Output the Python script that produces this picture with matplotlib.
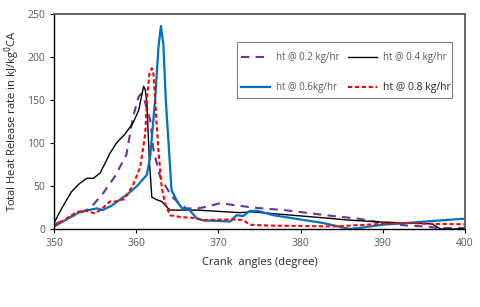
import matplotlib
matplotlib.use("Agg")
from matplotlib import pyplot as plt
from matplotlib.patches import Rectangle

plt.rcParams['font.family'] = ['Open Sans', 'DejaVu Sans']

# ht @ 0.2 kg/hr (purple dashed)
x02 = [350, 351.5, 353, 354.4, 356, 357.4, 358.8, 359.6, 360.3, 360.6, 361.0, 361.7, 362.1, 362.9,
       364.3, 365.2, 366.1, 367.5, 368.6, 370.2, 371.8, 373.4, 374, 378, 384, 387, 390, 393, 395, 397, 400]
y02 = [5, 12, 18, 24, 42, 61, 86, 130, 154, 157, 150, 127, 92, 61,
       38, 30, 24, 24, 26, 30, 28, 26, 25, 22, 15, 12, 7, 4, 3, 1, 1]

# ht @ 0.4 kg/hr (black)
x04 = [350, 351, 352.1, 353, 354, 354.8, 355.6, 356.3, 356.8, 357.6, 358.6, 359.6, 360.3, 360.9,
       361.1, 361.3, 361.6, 361.9, 362.5, 363.1, 364.1, 367.4, 372.6, 374, 384, 385.6, 390, 396, 397, 400]
y04 = [7, 25, 43, 52, 59, 59, 65, 78, 88, 100, 110, 123, 138, 166,
       162, 146, 80, 37, 34, 32, 22, 22, 19, 20, 12, 10.5, 8, 6, 0, 0]

# ht @ 0.6kg/hr (blue)
x06 = [350, 351.5, 353.2, 355.2, 355.9, 357, 358, 359, 360.1, 361.3, 361.7, 362.3, 362.7, 363, 363.3,
       363.6, 364.3, 365.1, 365.6, 366.5, 367.4, 368.2, 371, 371.4, 372.2, 373, 373.8, 374.8, 376.7,
       382.7, 386, 387, 390, 392.9, 397, 400]
y06 = [3, 11, 20, 24, 22, 27, 34, 41, 50, 63, 84, 150, 210, 236, 215,
       150, 45, 30, 24, 22, 12, 10, 9, 8.5, 16, 15, 21, 21, 16,
       7, 0, 1, 5, 7, 10, 12]

# ht @ 0.8 kg/hr (red dashed)
x08 = [350, 351.5, 352.8, 354, 355, 356, 356.8, 357.6, 358.6, 359.6, 360.5, 361.1, 361.3, 361.6, 361.9,
       362.1, 362.3, 362.7, 363.1, 363.5, 364.1, 365.3, 367.4, 368.2, 370.2, 371.8, 373, 373.8, 375.9,
       384, 390, 392.9, 396, 400]
y08 = [3, 12, 20, 21, 18, 25, 32, 32, 35, 51, 72, 111, 150, 180, 187,
       180, 150, 92, 49, 30, 16, 14, 12.5, 10, 11, 11, 10.5, 5, 4,
       3, 6, 7, 6, 5.5]

fig = plt.figure(figsize=(4.8, 3.07), dpi=100)
ax = fig.add_axes([54 / 480, 1 - 229 / 307, 411 / 480, 215 / 307])

l02, = ax.plot(x02, y02, color='#7030A0', lw=1.5, dashes=(4, 3), label='ht @ 0.2 kg/hr')
l04, = ax.plot(x04, y04, color='black', lw=1.0, label='ht @ 0.4 kg/hr')
l06, = ax.plot(x06, y06, color='#0070C0', lw=1.6, label='ht @ 0.6kg/hr')
l08, = ax.plot(x08, y08, color='#FF0000', lw=1.5, dashes=(2, 1.3), label='ht @ 0.8 kg/hr')

ax.set_xlim(350, 400)
ax.set_ylim(0, 250)
ax.set_xticks([350, 360, 370, 380, 390, 400])
ax.set_yticks([0, 50, 100, 150, 200, 250])
ax.tick_params(labelsize=7.5, labelcolor='#595959', length=3, width=0.8)

for s in ['top', 'right']:
    ax.spines[s].set_color('#595959')
    ax.spines[s].set_linewidth(1.3)
for s in ['left', 'bottom']:
    ax.spines[s].set_color('black')
    ax.spines[s].set_linewidth(1.0)

ax.set_xlabel('Crank  angles (degree)', fontsize=8, color='#262626', labelpad=6)
ax.set_ylabel('Total Heat Release rate in kJ/kg$^0$CA', fontsize=8, color='#262626', labelpad=4)

# legend box
ax.add_patch(Rectangle((0.445, 0.609), 0.523, 0.261, transform=ax.transAxes,
                       facecolor='white', edgecolor='#808080', lw=0.8, zorder=4))
leg = ax.legend([l02, l06, l04, l08],
                ['ht @ 0.2 kg/hr', 'ht @ 0.6kg/hr', 'ht @ 0.4 kg/hr', 'ht @ 0.8 kg/hr'],
                ncol=2, fontsize=7, loc='upper left', bbox_to_anchor=(0.455, 0.822),
                frameon=False, borderpad=0, borderaxespad=0,
                handlelength=3, handletextpad=0.6, columnspacing=0.9, labelspacing=1.95)
leg.set_zorder(5)
for t in leg.get_texts():
    t.set_color('#595959')
leg.get_texts()[3].set_color('#262626')
leg.get_texts()[3].set_fontsize(7.5)

fig.savefig('out.png', dpi=100)
